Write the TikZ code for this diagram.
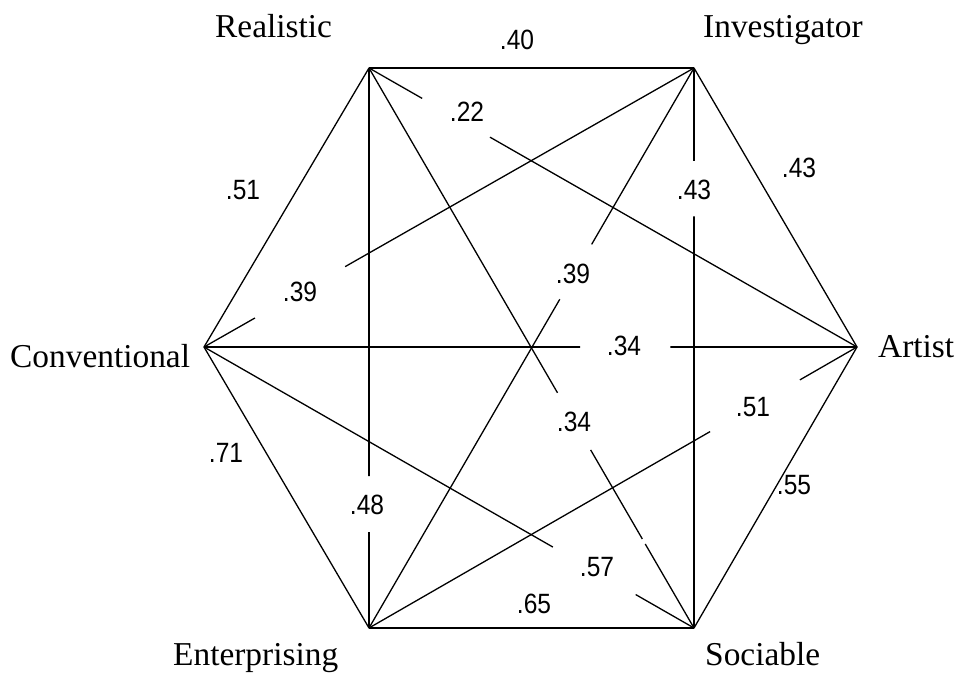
\documentclass[tikz,border=0pt]{standalone}
\usepackage{fontspec}
\usepackage{graphicx}
\setmainfont{Liberation Serif}
\newfontfamily\numfont{Liberation Sans}
\usetikzlibrary{calc}
\newcommand\wnum[1]{\scalebox{0.88}[1]{#1}}
\begin{document}
\begin{tikzpicture}[x=1bp,y=-1bp,
  vname/.style={font=\fontsize{33.5}{36}\selectfont, inner sep=0pt, anchor=base west},
  wlab/.style={font=\numfont\fontsize{28}{30}\selectfont, inner sep=0pt, anchor=center},
  ln/.style={line width=1.3bp, black},
  lnst/.style={line width=1.8bp, black}]
\useasboundingbox (0,0) rectangle (959,674);
% vertices
\coordinate (R) at (369,68);
\coordinate (I) at (694,68);
\coordinate (A) at (857,347);
\coordinate (S) at (694,628);
\coordinate (E) at (369,628);
\coordinate (C) at (204,347);
% vertex names
\node[vname] (nR) at (215,38) {Realistic};
\node[vname] (nI) at (703,38) {Investigator};
\node[vname] (nA) at (878,357) {Artist};
\node[vname] (nC) at (10,367) {Conventional};
\node[vname] (nE) at (173,665) {Enterprising};
\node[vname] (nS) at (705,665) {Sociable};
% outer hexagon
\draw[lnst] (R) -- (I);
\draw[ln] (I) -- (A);
\draw[ln] (A) -- (S);
\draw[lnst] (S) -- (E);
\draw[ln] (E) -- (C);
\draw[ln] (C) -- (R);
% gap points
\coordinate (ra1) at ($(R)!0.109!(A)$);
\coordinate (ra2) at ($(R)!0.248!(A)$);
\coordinate (ic1) at ($(I)!0.712!(C)$);
\coordinate (ic2) at ($(I)!0.896!(C)$);
\coordinate (ca1) at ($(C)!0.576!(A)$);
\coordinate (ca2) at ($(C)!0.714!(A)$);
\coordinate (ie1) at ($(I)!0.315!(E)$);
\coordinate (ie2) at ($(I)!0.413!(E)$);
\coordinate (rs1) at ($(R)!0.580!(S)$);
\coordinate (rs2) at ($(R)!0.682!(S)$);
\coordinate (rs3) at ($(R)!0.841!(S)$);
\coordinate (rs4) at ($(R)!0.850!(S)$);
\coordinate (cs1) at ($(C)!0.712!(S)$);
\coordinate (cs2) at ($(C)!0.881!(S)$);
\coordinate (ea1) at ($(E)!0.699!(A)$);
\coordinate (ea2) at ($(E)!0.883!(A)$);
\coordinate (re1) at ($(R)!0.729!(E)$);
\coordinate (re2) at ($(R)!0.829!(E)$);
\coordinate (is1) at ($(I)!0.166!(S)$);
\coordinate (is2) at ($(I)!0.265!(S)$);
% inner lines with gaps
\draw[ln] (R) -- (ra1);  \draw[ln] (ra2) -- (A);
\draw[ln] (I) -- (ic1);  \draw[ln] (ic2) -- (C);
\draw[lnst] (C) -- (ca1); \draw[lnst] (ca2) -- (A);
\draw[ln] (I) -- (ie1);  \draw[ln] (ie2) -- (E);
\draw[ln] (R) -- (rs1);  \draw[ln] (rs2) -- (rs3); \draw[ln] (rs4) -- (S);
\draw[ln] (C) -- (cs1);  \draw[ln] (cs2) -- (S);
\draw[ln] (E) -- (ea1);  \draw[ln] (ea2) -- (A);
\draw[lnst] (R) -- (re1); \draw[lnst] (re2) -- (E);
\draw[lnst] (I) -- (is1); \draw[lnst] (is2) -- (S);
% weights
\node[wlab] (wRI) at (517,40) {\wnum{.40}};
\node[wlab] (wRA) at (467,112) {\wnum{.22}};
\node[wlab] (wCR) at (243,190) {\wnum{.51}};
\node[wlab] (wIA) at (799,168) {\wnum{.43}};
\node[wlab] (wIS) at (694,190) {\wnum{.43}};
\node[wlab] (wIC) at (300,292) {\wnum{.39}};
\node[wlab] (wIE) at (573,274) {\wnum{.39}};
\node[wlab] (wCA) at (624,346) {\wnum{.34}};
\node[wlab] (wRS) at (574,422) {\wnum{.34}};
\node[wlab] (wEA) at (753,407) {\wnum{.51}};
\node[wlab] (wEC) at (226,453) {\wnum{.71}};
\node[wlab] (wRE) at (367,505) {\wnum{.48}};
\node[wlab] (wCS) at (597,567) {\wnum{.57}};
\node[wlab] (wAS) at (794,485) {\wnum{.55}};
\node[wlab] (wES) at (534,604) {\wnum{.65}};
\end{tikzpicture}
\end{document}
